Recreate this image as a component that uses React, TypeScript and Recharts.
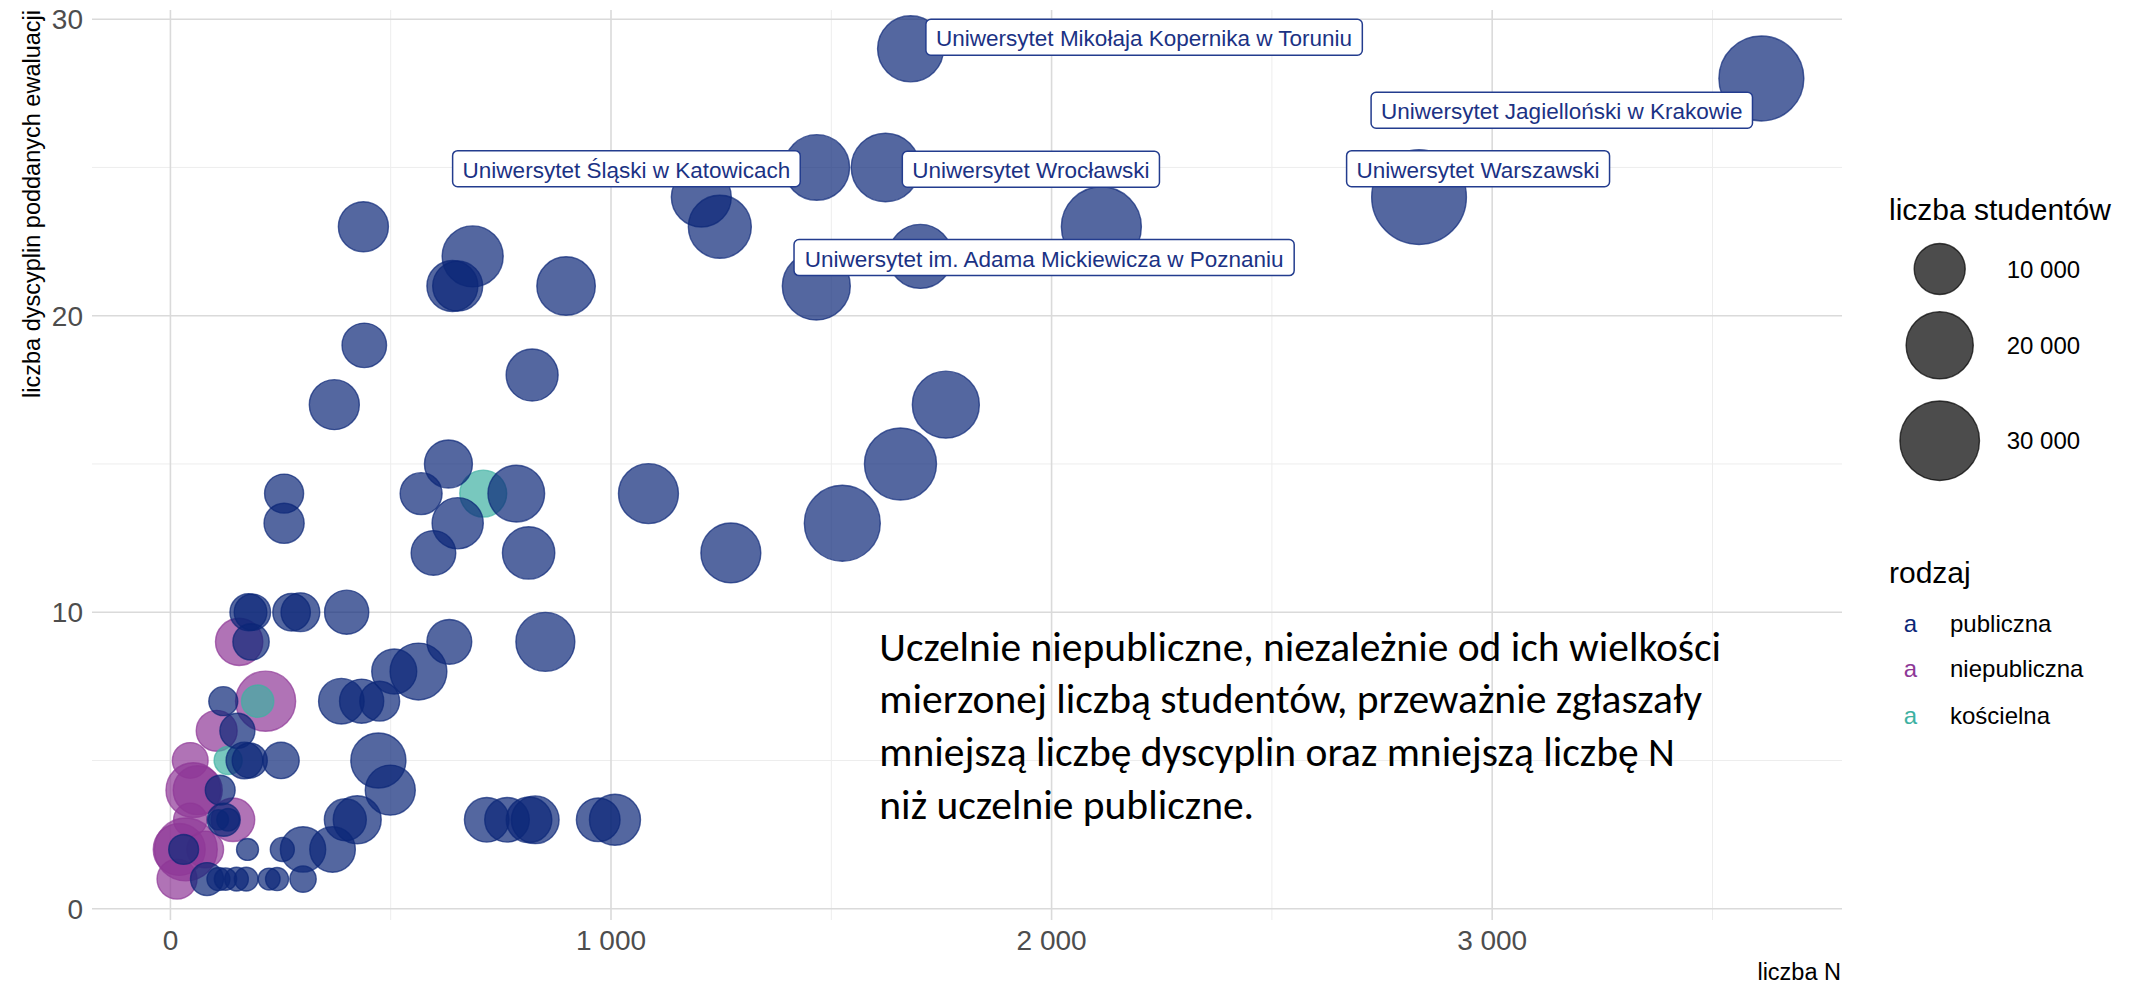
import React from 'react';
import { ScatterChart, Scatter, XAxis, YAxis, ZAxis, CartesianGrid } from 'recharts';

// ---------- data ----------
const categories = ['publiczna', 'niepubliczna', 'kościelna'];

// [liczba N, liczba dyscyplin, liczba studentów]
const publiczna: [number, number, number][] = [
  [1680, 29, 19200], [3611, 28, 35000], [1467, 25, 18900], [1623, 25, 21000],
  [2834, 24, 45000], [1205, 24, 15100], [438, 23, 9500], [1247, 23, 17100],
  [2113, 23, 30400], [686, 22, 15800], [1702, 22, 17800], [640, 21, 10000],
  [652, 21, 9500], [898, 21, 14200], [1466, 21, 20600], [440, 19, 6950],
  [821, 18, 10500], [372, 17, 9500], [1760, 17, 19900], [631, 15, 8500],
  [1657, 15, 23700], [258, 14, 4800], [569, 14, 5900], [785, 14, 13100],
  [1085, 14, 15100], [258, 13, 5200], [652, 13, 10100], [1525, 13, 26900],
  [597, 12, 7000], [813, 12, 10700], [1272, 12, 15100], [177, 10, 4100],
  [186, 10, 3900], [275, 10, 4300], [295, 10, 4700], [400, 10, 6800],
  [183, 9, 3900], [633, 9, 7100], [851, 9, 14500], [508, 8, 7160],
  [563, 8, 13200], [120, 7, 1900], [388, 7, 7400], [434, 7, 6800],
  [475, 7, 5100], [152, 6, 3500], [168, 5, 4000], [180, 5, 3500],
  [251, 5, 3900], [472, 5, 12200], [113, 4, 2100], [499, 4, 9500],
  [109, 3, 450], [131, 3, 750], [121, 3, 2900], [397, 3, 5900],
  [424, 3, 8500], [718, 3, 7000], [764, 3, 7000], [814, 3, 7400],
  [828, 3, 8400], [971, 3, 6600], [1009, 3, 10000], [30, 2, 2100],
  [175, 2, 650], [254, 2, 950], [301, 2, 7300], [368, 2, 7400],
  [83, 1, 2900], [109, 1, 800], [125, 1, 700], [150, 1, 900],
  [172, 1, 900], [224, 1, 650], [242, 1, 800], [301, 1, 1350],
];

const niepubliczna: [number, number, number][] = [
  [156, 9, 8200], [216, 7, 15200], [105, 6, 5500], [45, 5, 3700],
  [52, 4, 12000], [62, 4, 9000], [45, 3, 3000], [142, 3, 6500],
  [20, 2, 10500], [35, 2, 17000], [79, 2, 4000], [15, 1, 5150],
];

const koscielna: [number, number, number][] = [
  [710, 14, 8000], [198, 7, 2700], [131, 5, 1700],
];

const xTicks = [0, 1000, 2000, 3000];
const xMinor = [500, 1500, 2500, 3500];
const yTicks = [0, 10, 20, 30];
const yMinor = [5, 15, 25];
const sizeBreaks = [10000, 20000, 30000];

const labelTexts = [
  'Uniwersytet Mikołaja Kopernika w Toruniu',
  'Uniwersytet Jagielloński w Krakowie',
  'Uniwersytet Wrocławski',
  'Uniwersytet Śląski w Katowicach',
  'Uniwersytet Warszawski',
  'Uniwersytet im. Adama Mickiewicza w Poznaniu',
];

const noteLines = [
  'Uczelnie niepubliczne, niezależnie od ich wielkości',
  'mierzonej liczbą studentów, przeważnie zgłaszały',
  'mniejszą liczbę dyscyplin oraz mniejszą liczbę N',
  'niż uczelnie publiczne.',
];

// ---------- layout (label placement in data units, repel-style) ----------
const labelPlacement: [number, number][] = [
  [2210, 29.39], [3158, 26.93], [1953, 24.94], [1035, 24.96], [2968, 24.96], [1983, 21.96],
];
const notePlacement: [number, number] = [1609, 8.37];

const COLORS: Record<string, string> = {
  publiczna: '#0B2677',
  niepubliczna: '#8E3897',
  'kościelna': '#3EB1A2',
};
const LABEL_COLOR = '#1B3284';
const FONT = "'Liberation Sans', Arial, sans-serif";
const NOTE_FONT = "Carlito, Calibri, Lato, sans-serif";

const toPoints = (arr: [number, number, number][]) =>
  arr.map(([n, d, s]) => ({ n, d, students: s }));

// ggplot-like area palette: diameter linear in sqrt(students)
const diam = (s: number) => 12 + 0.39 * Math.sqrt(s);

const fmt = (v: number) => String(v).replace(/\B(?=(\d{3})+(?!\d))/g, ' ');

let ctx: CanvasRenderingContext2D | null = null;
const measure = (t: string, font: string) => {
  if (!ctx) ctx = document.createElement('canvas').getContext('2d');
  if (!ctx) return t.length * 11;
  ctx.font = font;
  return ctx.measureText(t).width;
};

const makeDot = (color: string) => (p: any) => {
  const r = p.width ? p.width / 2 : Math.sqrt(Math.max(p.size || 0, 0) / Math.PI);
  return (
    <circle
      cx={p.cx}
      cy={p.cy}
      r={r}
      fill={color}
      fillOpacity={0.7}
      stroke={color}
      strokeOpacity={0.7}
      strokeWidth={1.4}
    />
  );
};

const LabelShape = (p: any) => {
  const text: string = p.payload.text;
  const w = measure(text, `22.5px ${FONT}`) + 20;
  return (
    <g>
      <rect x={p.cx - w / 2} y={p.cy - 18} width={w} height={36} rx={5} ry={5}
        fill="#ffffff" stroke="#233C8E" strokeWidth={1.5} />
      <text x={p.cx} y={p.cy + 9} textAnchor="middle" fontFamily={FONT} fontSize={22.5} fill={LABEL_COLOR}>
        {text}
      </text>
    </g>
  );
};

const NoteShape = (p: any) => (
  <text x={p.cx} y={p.cy} fontFamily={NOTE_FONT} fontSize={41.5} fill="#000000">
    {noteLines.map((l, i) => (
      <tspan key={i} x={p.cx} dy={i === 0 ? 0 : 52.8}>{l}</tspan>
    ))}
  </text>
);

const labelData = labelTexts.map((text, i) => ({ n: labelPlacement[i][0], d: labelPlacement[i][1], text }));
const noteData = [{ n: notePlacement[0], d: notePlacement[1] }];

export default function App() {
  return (
    <div style={{ position: 'relative', width: 2129, height: 985, background: '#fff' }}>
      <style>{'body{margin:0;background:#fff}'}</style>
      <ScatterChart width={2129} height={985} margin={{ top: 10, right: 287, bottom: 0, left: 0 }}>
        <CartesianGrid stroke="#EDEDED" strokeWidth={1} verticalValues={xMinor} horizontalValues={yMinor} />
        <CartesianGrid stroke="#DADADA" strokeWidth={1.6} verticalValues={xTicks} horizontalValues={yTicks} />
        <XAxis
          type="number"
          dataKey="n"
          domain={[-178, 3794]}
          ticks={xTicks}
          tickFormatter={fmt}
          axisLine={false}
          tickLine={false}
          tickSize={0}
          tickMargin={10}
          height={65}
          tick={{ fontSize: 28, fill: '#4D4D4D', fontFamily: FONT }}
          allowDataOverflow
        />
        <YAxis
          type="number"
          dataKey="d"
          domain={[-0.38, 30.31]}
          ticks={yTicks}
          axisLine={false}
          tickLine={false}
          tickSize={0}
          tickMargin={9}
          width={92}
          tick={{ fontSize: 28, fill: '#4D4D4D', fontFamily: FONT }}
          allowDataOverflow
        />
        <ZAxis
          type="number"
          dataKey={(p: any) => (p && p.students ? diam(p.students) ** 2 : 0)}
          domain={[0, 10000]}
          range={[0, 2500 * Math.PI]}
        />
        <Scatter name={categories[1]} data={toPoints(niepubliczna)} isAnimationActive={false}
          shape={makeDot(COLORS.niepubliczna)} />
        <Scatter name={categories[2]} data={toPoints(koscielna)} isAnimationActive={false}
          shape={makeDot(COLORS['kościelna'])} />
        <Scatter name={categories[0]} data={toPoints(publiczna)} isAnimationActive={false}
          shape={makeDot(COLORS.publiczna)} />
        <Scatter name="labels" data={labelData} isAnimationActive={false} shape={LabelShape} />
        <Scatter name="note" data={noteData} isAnimationActive={false} shape={NoteShape} />
      </ScatterChart>

      <svg width={2129} height={985} style={{ position: 'absolute', left: 0, top: 0, pointerEvents: 'none' }}>
        {/* axis titles */}
        <text transform="rotate(-90)" x={-10} y={39.5} textAnchor="end" fontFamily={FONT} fontSize={23.5} fill="#000">
          liczba dyscyplin poddanych ewaluacji
        </text>
        <text x={1841} y={980} textAnchor="end" fontFamily={FONT} fontSize={23.5} fill="#000">
          liczba N
        </text>

        {/* size legend */}
        <text x={1889} y={220} fontFamily={FONT} fontSize={30} fill="#000">liczba studentów</text>
        {sizeBreaks.map((b, i) => {
          const cy = [269, 345.3, 440.7][i];
          return (
            <g key={b}>
              <circle cx={1939.7} cy={cy} r={diam(b) / 2} fill="#000" fillOpacity={0.7}
                stroke="#000" strokeOpacity={0.7} strokeWidth={1.4} />
              <text x={2006.7} y={cy + 8.5} fontFamily={FONT} fontSize={24} fill="#000">{fmt(b)}</text>
            </g>
          );
        })}

        {/* colour legend */}
        <text x={1889} y={583} fontFamily={FONT} fontSize={30} fill="#000">rodzaj</text>
        {categories.map((c, i) => {
          const cy = [623.7, 668.9, 715][i];
          return (
            <g key={c}>
              <text x={1910.5} y={cy + 8.5} textAnchor="middle" fontFamily={FONT} fontSize={24} fill={COLORS[c]}>a</text>
              <text x={1950} y={cy + 8.5} fontFamily={FONT} fontSize={24} fill="#000">{c}</text>
            </g>
          );
        })}
      </svg>
    </div>
  );
}
